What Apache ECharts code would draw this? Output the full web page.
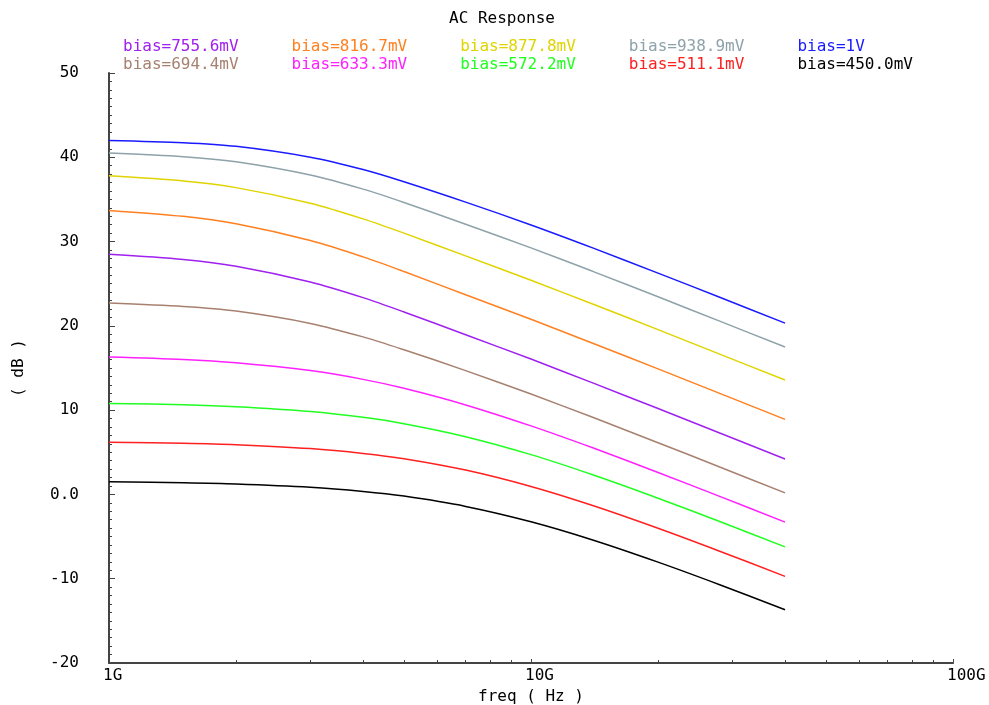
<!DOCTYPE html>
<html>
<head>
<meta charset="utf-8">
<script src="https://cdn.jsdelivr.net/npm/echarts@6/dist/echarts.min.js"></script>
<style>
  html, body { margin: 0; padding: 0; background: #fff; }
  #main { width: 989px; height: 705px; }
</style>
</head>
<body>
<div id="main"></div>
<script>
// frequency points (GHz)
var freqGHz = [1, 1.5, 2, 3, 4, 5, 7, 10, 14, 20, 28, 40];

var bias1V    = [42.0, 41.73, 41.30, 40.01, 38.55, 37.10, 34.68, 31.97, 29.25, 26.26, 23.39, 20.32];
var bias938_9 = [40.5, 40.07, 39.47, 37.90, 36.22, 34.64, 32.06, 29.25, 26.47, 23.45, 20.56, 17.49];
var bias877_8 = [37.8, 37.19, 36.40, 34.55, 32.69, 31.00, 28.30, 25.41, 22.59, 19.55, 16.65, 13.57];
var bias816_7 = [33.7, 32.99, 32.11, 30.12, 28.18, 26.44, 23.69, 20.78, 17.94, 14.89, 11.99, 8.91];
var bias755_6 = [28.5, 27.88, 27.08, 25.21, 23.35, 21.65, 18.94, 16.06, 13.23, 10.19, 7.29, 4.21];
var bias694_4 = [22.7, 22.29, 21.75, 20.29, 18.69, 17.16, 14.69, 11.91, 9.15, 6.14, 3.26, 0.18];
var bias633_3 = [16.3, 16.01, 15.62, 14.69, 13.65, 12.59, 10.62, 8.13, 5.53, 2.61, -0.23, -3.28];
var bias572_2 = [10.8, 10.64, 10.41, 9.84, 9.15, 8.39, 6.85, 4.72, 2.33, -0.45, -3.21, -6.22];
var bias511_1 = [6.2, 6.07, 5.90, 5.44, 4.87, 4.24, 2.89, 0.94, -1.32, -4.02, -6.74, -9.72];
var bias450_0 = [1.5, 1.39, 1.25, 0.86, 0.36, -0.20, -1.42, -3.24, -5.40, -8.03, -10.71, -13.68];

var legendRow1 = ['bias=755.6mV', 'bias=816.7mV', 'bias=877.8mV', 'bias=938.9mV', 'bias=1V'];
var legendRow2 = ['bias=694.4mV', 'bias=633.3mV', 'bias=572.2mV', 'bias=511.1mV', 'bias=450.0mV'];

var minorFreqs = [2e9, 3e9, 4e9, 5e9, 6e9, 7e9, 8e9, 9e9, 2e10, 3e10, 4e10, 5e10, 6e10, 7e10, 8e10, 9e10];

var curves = [
    { name: 'bias=1V', color: '#1a1aff', values: bias1V },
    { name: 'bias=938.9mV', color: '#8ea2aa', values: bias938_9 },
    { name: 'bias=877.8mV', color: '#e0d400', values: bias877_8 },
    { name: 'bias=816.7mV', color: '#ff8020', values: bias816_7 },
    { name: 'bias=755.6mV', color: '#a020f0', values: bias755_6 },
    { name: 'bias=694.4mV', color: '#a88070', values: bias694_4 },
    { name: 'bias=633.3mV', color: '#ff20ff', values: bias633_3 },
    { name: 'bias=572.2mV', color: '#20ff20', values: bias572_2 },
    { name: 'bias=511.1mV', color: '#ff2020', values: bias511_1 },
    { name: 'bias=450.0mV', color: '#000000', values: bias450_0 }
];

var FONT = 'DejaVu Sans Mono';

function colorOf(name) {
    for (var i = 0; i < curves.length; i++) {
        if (curves[i].name === name) return curves[i].color;
    }
    return '#000';
}

function legendData(names) {
    return names.map(function (n) {
        return { name: n, icon: 'none', textStyle: { color: colorOf(n) } };
    });
}

var chart = echarts.init(document.getElementById('main'), null, { renderer: 'canvas' });

var legendBase = {
    left: 113,
    itemWidth: 0,
    itemHeight: 0,
    itemGap: 48,
    selectedMode: false,
    textStyle: { fontFamily: FONT, fontSize: 16 }
};

var option = {
    backgroundColor: '#fff',
    animation: false,
    title: {
        text: 'AC Response',
        left: 444,
        top: 6,
        textStyle: { fontFamily: FONT, fontSize: 16, fontWeight: 'normal', color: '#000' }
    },
    legend: [
        Object.assign({}, legendBase, { top: 34, data: legendData(legendRow1) }),
        Object.assign({}, legendBase, { top: 52, data: legendData(legendRow2) })
    ],
    grid: { left: 109, right: 36, top: 73, bottom: 42, outerBoundsMode: 'none', containLabel: false },
    xAxis: [{
        type: 'log',
        logBase: 10,
        min: 1e9,
        max: 1e11,
        name: 'freq ( Hz )',
        nameLocation: 'middle',
        nameGap: 18,
        nameTextStyle: { fontFamily: FONT, fontSize: 16, color: '#000' },
        axisLine: { onZero: false, lineStyle: { color: '#444', width: 2 } },
        axisTick: { inside: true, length: 4, lineStyle: { color: '#444' } },
        axisLabel: {
            fontFamily: FONT, fontSize: 16, color: '#000', margin: 5, align: 'left',
            padding: [0, 0, 0, -6],
            formatter: function (v) {
                if (v >= 1e11) return '100G';
                if (v >= 1e10) return '10G';
                return '1G';
            }
        },
        splitLine: { show: false }
    }, {
        type: 'log',
        logBase: 10,
        min: 1e9,
        max: 1e11,
        position: 'bottom',
        axisLine: { show: false, onZero: false },
        axisLabel: { show: false },
        axisTick: { show: true, inside: true, length: 3, customValues: minorFreqs, lineStyle: { color: '#444' } },
        splitLine: { show: false }
    }],
    yAxis: {
        type: 'value',
        min: -20,
        max: 50,
        interval: 10,
        name: '( dB )',
        nameLocation: 'middle',
        nameGap: 82,
        nameTextStyle: { fontFamily: FONT, fontSize: 16, color: '#000' },
        axisLine: { show: true, onZero: false, lineStyle: { color: '#444', width: 2 } },
        axisTick: { show: true, inside: true, length: 6, lineStyle: { color: '#444' } },
        minorTick: { show: true, splitNumber: 10, length: 3, lineStyle: { color: '#444' } },
        axisLabel: {
            fontFamily: FONT, fontSize: 16, color: '#000', margin: 30,
            formatter: function (v) { return v === 0 ? '0.0' : String(v); }
        },
        splitLine: { show: false }
    },
    series: curves.map(function (c) {
        return {
            name: c.name,
            type: 'line',
            xAxisIndex: 0,
            showSymbol: false,
            smooth: 0.3,
            color: c.color,
            lineStyle: { color: c.color, width: 1.5 },
            data: freqGHz.map(function (f, i) { return [f * 1e9, c.values[i]]; })
        };
    })
};

chart.setOption(option);
</script>
</body>
</html>
